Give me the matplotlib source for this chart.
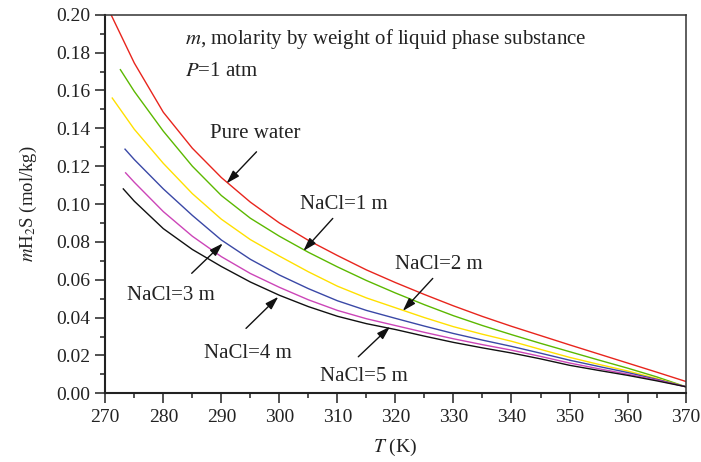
import matplotlib
matplotlib.use("Agg")
import matplotlib.pyplot as plt
from matplotlib.ticker import MultipleLocator

plt.rcParams['font.family'] = ['Liberation Serif', 'DejaVu Serif']
plt.rcParams['mathtext.fontset'] = 'stix'

# ---- data ----
T_grid = [275, 280, 285, 290, 295, 300, 305, 310, 315, 320, 325, 330,
          335, 340, 345, 350, 355, 360, 365, 370]

T_pure = [271.0] + T_grid
m_pure = [0.200, 0.1745, 0.1485, 0.1295, 0.1140, 0.1010, 0.0900, 0.0808, 0.0728, 0.0652,
          0.0585, 0.0522, 0.0462, 0.0406, 0.0354, 0.0305, 0.0256, 0.0208, 0.0160, 0.0112, 0.0063]

T_n1 = [272.6] + T_grid
m_n1 = [0.171, 0.1595, 0.1385, 0.1200, 0.1045, 0.0925, 0.0830, 0.0745, 0.0668, 0.0596,
        0.0530, 0.0468, 0.0410, 0.0358, 0.0310, 0.0264, 0.0220, 0.0176, 0.0133, 0.0087, 0.0035]

T_n2 = [271.2] + T_grid
m_n2 = [0.156, 0.1395, 0.1215, 0.1055, 0.0920, 0.0812, 0.0725, 0.0642, 0.0566, 0.0504,
        0.0452, 0.0400, 0.0352, 0.0312, 0.0275, 0.0232, 0.0190, 0.0153, 0.0118, 0.0078, 0.0035]

T_n3 = [273.4] + T_grid
m_n3 = [0.129, 0.1235, 0.1080, 0.0940, 0.0810, 0.0708, 0.0625, 0.0553, 0.0489, 0.0438,
        0.0396, 0.0355, 0.0316, 0.0281, 0.0248, 0.0212, 0.0175, 0.0142, 0.0110, 0.0074, 0.0035]

T_n4 = [273.5] + T_grid
m_n4 = [0.1165, 0.1115, 0.0960, 0.0830, 0.0722, 0.0633, 0.0560, 0.0494, 0.0438, 0.0394,
        0.0358, 0.0322, 0.0288, 0.0257, 0.0228, 0.0195, 0.0160, 0.0130, 0.0101, 0.0070, 0.0035]

T_n5 = [273.1] + T_grid
m_n5 = [0.108, 0.1015, 0.0870, 0.0760, 0.0670, 0.0588, 0.0518, 0.0458, 0.0407, 0.0368,
        0.0337, 0.0302, 0.0269, 0.0240, 0.0213, 0.0182, 0.0148, 0.0121, 0.0095, 0.0066, 0.0035]

series = [
    (T_pure, m_pure, '#e8251d'),
    (T_n1, m_n1, '#5cb800'),
    (T_n2, m_n2, '#ffe000'),
    (T_n3, m_n3, '#3a48a6'),
    (T_n4, m_n4, '#cc45b8'),
    (T_n5, m_n5, '#111111'),
]

x_ticks = [270, 280, 290, 300, 310, 320, 330, 340, 350, 360, 370]
y_ticks = [0.00, 0.02, 0.04, 0.06, 0.08, 0.10, 0.12, 0.14, 0.16, 0.18, 0.20]

fig = plt.figure(figsize=(7.01, 4.62), dpi=100)
ax = fig.add_axes([0.1502, 0.1487, 0.978 - 0.1502, 0.968 - 0.1487])

for T, m, c in series:
    ax.plot(T, m, color=c, lw=1.0, solid_joinstyle='round')

ax.set_xlim(270, 370)
ax.set_ylim(0.0, 0.20)
ax.set_xticks(x_ticks)
ax.set_yticks(y_ticks)
ax.set_yticklabels([f"{v:.2f}" for v in y_ticks])
ax.xaxis.set_minor_locator(MultipleLocator(5))
ax.yaxis.set_minor_locator(MultipleLocator(0.01))
ax.tick_params(which='major', direction='out', length=7, width=1.1,
               labelsize=14, color='#222222', labelcolor='#222222', pad=4)
ax.tick_params(which='minor', direction='out', length=3.5, width=1.1, color='#222222')
ax.tick_params(top=False, right=False)
for s in ['left', 'bottom']:
    ax.spines[s].set_linewidth(1.5)
    ax.spines[s].set_color('#222222')
for s in ['top', 'right']:
    ax.spines[s].set_linewidth(1.1)
    ax.spines[s].set_color('#333333')

ax.set_xlabel(r'$T$ (K)', fontsize=14, color='#222222', labelpad=8)
ax.set_ylabel(r'$m$H$_2$S (mol/kg)', fontsize=13.5, color='#222222', labelpad=12)

tc = '#222222'
fs = 15
ax.text(283.7, 0.187, r'$m$, molarity by weight of liquid phase substance',
        fontsize=fs, color=tc, ha='left', va='center')
ax.text(283.7, 0.1699, r'$P$=1 atm', fontsize=fs, color=tc, ha='left', va='center')

labels = [
    ('Pure water', (295.9, 0.1375), (296.06, 0.1276), (290.89, 0.1109)),
    ('NaCl=1 m', (311.1, 0.0995), (309.2, 0.0924), (304.13, 0.0752)),
    ('NaCl=2 m', (327.4, 0.0681), (326.43, 0.0607), (321.26, 0.0435)),
    ('NaCl=3 m', (281.26, 0.0519), (284.89, 0.0634), (290.24, 0.0792)),
    ('NaCl=4 m', (294.5, 0.0211), (294.25, 0.0343), (299.82, 0.0510)),
    ('NaCl=5 m', (314.6, 0.0091), (313.6, 0.0193), (319.07, 0.0352)),
]
for txt, tpos, tail, tip in labels:
    ax.text(tpos[0], tpos[1], txt, fontsize=fs, color=tc, ha='center', va='center')
    ax.annotate('', xy=tip, xytext=tail,
                arrowprops=dict(arrowstyle='-|>,head_length=0.8,head_width=0.25',
                                color='#111111', lw=1.0, shrinkA=0, shrinkB=0))

fig.savefig('out.png', dpi=100)
